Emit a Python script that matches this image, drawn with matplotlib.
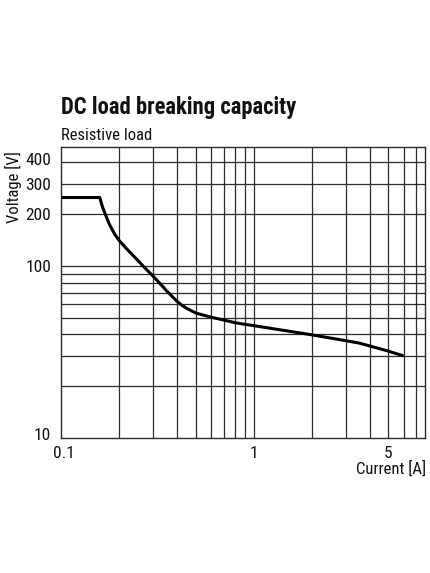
import matplotlib
matplotlib.use("Agg")
import matplotlib.pyplot as plt
import matplotlib.transforms as mtransforms
from matplotlib.ticker import FixedLocator, NullLocator, NullFormatter

# Data
current = [0.1, 0.159, 0.162, 0.165, 0.172, 0.179, 0.19, 0.2, 0.225, 0.25, 0.275, 0.3,
           0.325, 0.35, 0.375, 0.4, 0.425, 0.45, 0.5, 0.6, 0.7, 0.8, 0.9, 1.0,
           2.0, 3.0, 3.5, 4.0, 5.0, 6.0]
voltage = [250, 250, 232, 217, 193, 173, 153, 141, 122, 108, 96.5, 87.5,
           79.5, 72.5, 67, 62.3, 59, 56.7, 53.3, 50.4, 48.5, 46.8, 45.8, 45.0,
           39.8, 36.8, 35.7, 34.3, 32.0, 30.0]

x_grid = [0.2, 0.3, 0.4, 0.5, 0.6, 0.7, 0.8, 0.9, 1, 2, 3, 4, 5, 6, 7]
y_grid = [20, 30, 40, 50, 60, 70, 80, 90, 100, 200, 300, 400]
x_ticks = [0.1, 1, 5]
x_ticklabels = ["0.1", "1", "5"]
y_ticks = [10, 100, 200, 300, 400]
y_ticklabels = ["10", "100", "200", "300", "400"]

title = "DC load breaking capacity"
subtitle = "Resistive load"
xlabel = "Current [A]"
ylabel = "Voltage [V]"

FAM = ["Roboto Condensed", "DejaVu Sans"]
plt.rcParams["font.family"] = FAM

W, H = 430, 573
fig = plt.figure(figsize=(W / 100, H / 100), dpi=100)
ax = fig.add_axes([61 / W, 1 - 438 / H, (425 - 61) / W, (438 - 146.5) / H])
ax.set_xscale("log")
ax.set_yscale("log")
ax.set_xlim(0.1, 7.75)
ax.set_ylim(10, 495)

for xv in x_grid:
    ax.axvline(xv, color="#2a2a2a", lw=0.9, zorder=1)
for yv in y_grid:
    ax.axhline(yv, color="#2a2a2a", lw=0.9, zorder=1)

ax.plot(current, voltage, color="black", lw=2.2, zorder=3,
        solid_capstyle="butt", solid_joinstyle="round")

ax.xaxis.set_major_locator(FixedLocator(x_ticks))
ax.xaxis.set_minor_locator(NullLocator())
ax.xaxis.set_minor_formatter(NullFormatter())
ax.set_xticklabels(x_ticklabels)
ax.yaxis.set_major_locator(FixedLocator(y_ticks))
ax.yaxis.set_minor_locator(NullLocator())
ax.yaxis.set_minor_formatter(NullFormatter())
ax.set_yticklabels(y_ticklabels)
ax.tick_params(axis="both", length=0, labelsize=12.5, colors="#111111")
ax.tick_params(axis="x", pad=6)
ax.tick_params(axis="y", pad=7)

# small offsets of end labels as in the reference
for lab in ax.get_yticklabels():
    if lab.get_text() == "10":
        lab.set_transform(lab.get_transform() + mtransforms.ScaledTranslation(0, 4 / 100, fig.dpi_scale_trans))
    if lab.get_text() == "400":
        lab.set_transform(lab.get_transform() + mtransforms.ScaledTranslation(0, 3 / 100, fig.dpi_scale_trans))
for lab in ax.get_xticklabels():
    if lab.get_text() == "0.1":
        lab.set_transform(lab.get_transform() + mtransforms.ScaledTranslation(3 / 100, 0, fig.dpi_scale_trans))

for s in ax.spines.values():
    s.set_linewidth(1.0)
    s.set_color("#2a2a2a")

fig.text(61 / W, 1 - 114 / H, title, fontsize=16.3, fontweight="bold",
         ha="left", va="baseline", color="#111111")
fig.text(61 / W, 1 - 139.5 / H, subtitle, fontsize=12, ha="left",
         va="baseline", color="#111111")
fig.text(426 / W, 1 - 474 / H, xlabel, fontsize=12, ha="right",
         va="baseline", color="#111111")
fig.text(22 / W, 1 - 151 / H, ylabel, fontsize=12, rotation=90,
         ha="right", va="top", color="#111111")

fig.savefig("out.png", dpi=100)
